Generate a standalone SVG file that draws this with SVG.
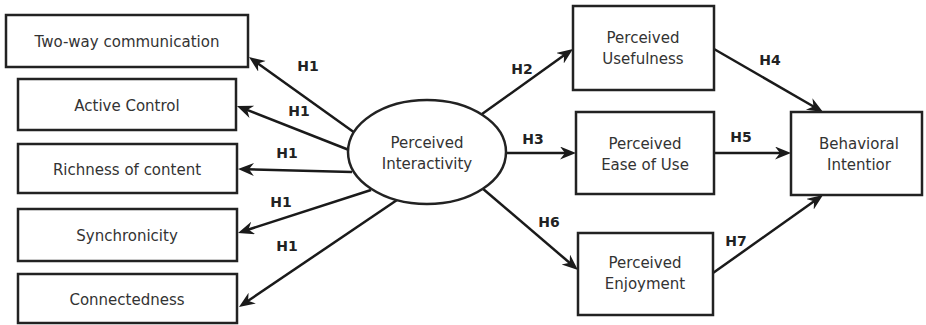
<svg xmlns="http://www.w3.org/2000/svg" width="926" height="325" viewBox="0 0 926 325">
<style>
.box{fill:#fff;stroke:#222;stroke-width:2.5}
.t{font-family:"DejaVu Sans",Verdana,sans-serif;font-size:15px;fill:#333;text-anchor:middle;dominant-baseline:central}
.h{font-family:"DejaVu Sans",Verdana,sans-serif;font-size:14px;font-weight:bold;fill:#222;text-anchor:middle;dominant-baseline:central}
.c{stroke:#1a1a1a;stroke-width:2.5;fill:none;marker-end:url(#ah)}
</style>
<defs>
<marker id="ah" markerUnits="userSpaceOnUse" markerWidth="18" markerHeight="15" refX="8" refY="6.5" orient="auto">
<path d="M0,0 L16,6.5 L0,13 L5,6.5 Z" fill="#1a1a1a"/>
</marker>
</defs>
<rect width="926" height="325" fill="#fff"/>
<g id="connectors">
<line class="c" x1="355" y1="133" x2="255.5" y2="61.7"/>
<line class="c" x1="349" y1="150" x2="244.4" y2="108.9"/>
<line class="c" x1="352" y1="172" x2="246" y2="169.2"/>
<line class="c" x1="371" y1="190" x2="245.6" y2="230.5"/>
<line class="c" x1="397" y1="200" x2="245.6" y2="302.5"/>
<line class="c" x1="482" y1="114" x2="566.5" y2="53.6"/>
<line class="c" x1="501" y1="153" x2="568" y2="153"/>
<line class="c" x1="482" y1="188" x2="571.9" y2="264.8"/>
<line class="c" x1="714" y1="49" x2="816.1" y2="108"/>
<line class="c" x1="714" y1="153" x2="783" y2="153"/>
<line class="c" x1="713" y1="273" x2="816.5" y2="199.6"/>
<text class="h" x="308" y="66">H1</text>
<text class="h" x="299" y="111">H1</text>
<text class="h" x="287" y="153">H1</text>
<text class="h" x="281" y="202">H1</text>
<text class="h" x="287" y="246">H1</text>
<text class="h" x="522" y="69">H2</text>
<text class="h" x="533" y="139">H3</text>
<text class="h" x="549" y="222">H6</text>
<text class="h" x="770" y="60">H4</text>
<text class="h" x="741" y="137">H5</text>
<text class="h" x="736" y="241">H7</text>
</g>
<g id="two-way">
<rect class="box" x="6" y="15" width="242" height="52"/>
<text class="t" x="127" y="42">Two-way communication</text>
</g>
<g id="active-control">
<rect class="box" x="18" y="79" width="218" height="51"/>
<text class="t" x="127" y="106">Active Control</text>
</g>
<g id="richness">
<rect class="box" x="18" y="144" width="219" height="49"/>
<text class="t" x="127" y="170">Richness of content</text>
</g>
<g id="synchronicity">
<rect class="box" x="18" y="209" width="219" height="52"/>
<text class="t" x="127" y="236">Synchronicity</text>
</g>
<g id="connectedness">
<rect class="box" x="18" y="274" width="219" height="49"/>
<text class="t" x="127" y="300">Connectedness</text>
</g>
<g id="interactivity">
<ellipse class="box" cx="427" cy="152" rx="79" ry="52"/>
<text class="t" x="427" y="143">Perceived</text>
<text class="t" x="427" y="164">Interactivity</text>
</g>
<g id="usefulness">
<rect class="box" x="573" y="6" width="141" height="84"/>
<text class="t" x="643" y="38">Perceived</text>
<text class="t" x="643" y="59">Usefulness</text>
</g>
<g id="ease-of-use">
<rect class="box" x="576" y="112" width="138" height="82"/>
<text class="t" x="645" y="144">Perceived</text>
<text class="t" x="645" y="165">Ease of Use</text>
</g>
<g id="enjoyment">
<rect class="box" x="578" y="233" width="135" height="82"/>
<text class="t" x="645" y="263">Perceived</text>
<text class="t" x="645" y="284">Enjoyment</text>
</g>
<g id="behavioral-intention">
<rect class="box" x="791" y="112" width="131" height="83"/>
<text class="t" x="859" y="144">Behavioral</text>
<text class="t" x="859" y="165">Intentior</text>
</g>
</svg>
